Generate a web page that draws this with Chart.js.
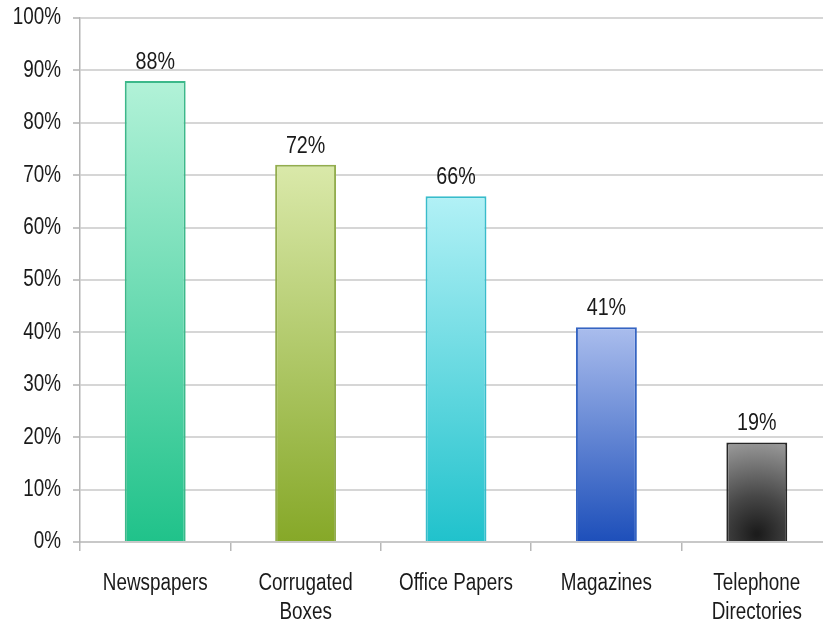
<!DOCTYPE html>
<html>
<head>
<meta charset="utf-8">
<script src="https://cdn.jsdelivr.net/npm/chart.js@4.4.1/dist/chart.umd.min.js"></script>
<style>
  html, body { margin: 0; padding: 0; background: #ffffff; overflow: hidden; }
  #wrap { position: relative; width: 840px; height: 637px; }
</style>
</head>
<body>
<div id="wrap"><canvas id="chart"></canvas></div>
<script>
// Recycling rates by paper product (percent)
const categories = ["Newspapers", ["Corrugated", "Boxes"], "Office Papers", "Magazines", ["Telephone", "Directories"]];
const recyclingRates = [88, 72, 66, 41, 19];
const valueLabels = ["88%", "72%", "66%", "41%", "19%"];
const yTickValues = [0, 10, 20, 30, 40, 50, 60, 70, 80, 90, 100];

// Per-bar shading: top colour, bottom colour, outline colour
const barTop = ["#b2f2d8", "#dae9aa", "#b2f1f6", "#aabded", "#a9a9a9"];
const barBottom = ["#20c28a", "#86a828", "#20c2cc", "#1d4fba", "#1c1c1c"];
const barEdge = ["#3cb88a", "#93ad4e", "#38bccb", "#3564c2", "#262626"];

const FONT = "'Liberation Sans', Arial, sans-serif";
const TEXT_COLOR = "#1a1a1a";
const SQUEEZE = 0.82;   // narrow lettering: horizontal scale of all text

function barFill(ctx) {
  const chart = ctx.chart;
  const i = ctx.dataIndex;
  const yScale = chart.scales.y;
  const xScale = chart.scales.x;
  if (!chart.chartArea || !yScale || !xScale) return barBottom[i];
  const g = chart.ctx;
  const top = yScale.getPixelForValue(recyclingRates[i]);
  const base = yScale.getPixelForValue(0);
  if (i === 4) {
    const cx = xScale.getPixelForValue(i);
    const r = g.createRadialGradient(cx, base - 8, 2, cx, base - 8, (base - top) * 1.05);
    r.addColorStop(0, barBottom[i]);
    r.addColorStop(0.35, "#474747");
    r.addColorStop(1, barTop[i]);
    return r;
  }
  const lg = g.createLinearGradient(0, top, 0, base);
  lg.addColorStop(0, barTop[i]);
  lg.addColorStop(1, barBottom[i]);
  return lg;
}

// Draws one narrow text line, anchored at (x, y)
function narrowText(g, text, x, y, align) {
  g.save();
  g.translate(x, y);
  g.scale(SQUEEZE, 1);
  g.textAlign = align;
  g.fillText(text, 0, 0);
  g.restore();
}

// Axis labels and value labels in narrow lettering
const narrowLabelPlugin = {
  id: 'narrowLabels',
  afterDraw(chart) {
    const g = chart.ctx;
    const xs = chart.scales.x;
    const ys = chart.scales.y;
    g.save();
    g.fillStyle = TEXT_COLOR;
    g.textBaseline = "middle";

    // y-axis tick labels
    g.font = "23px " + FONT;
    ys.ticks.forEach((t, i) => {
      narrowText(g, t.value + "%", ys.right - 19, ys.getPixelForTick(i), "right");
    });

    // category labels (one or two lines)
    xs.ticks.forEach((t, i) => {
      const lines = [].concat(chart.data.labels[i]);
      lines.forEach((line, k) => {
        narrowText(g, line, xs.getPixelForTick(i), xs.top + 42 + k * 29, "center");
      });
    });

    // value labels above bars
    g.font = "24px " + FONT;
    g.textBaseline = "alphabetic";
    chart.getDatasetMeta(0).data.forEach((bar, i) => {
      narrowText(g, valueLabels[i], bar.x, bar.y - 12, "center");
    });
    g.restore();
  }
};

new Chart(document.getElementById('chart'), {
  type: 'bar',
  data: {
    labels: categories,
    datasets: [{
      data: recyclingRates,
      backgroundColor: barFill,
      borderColor: barEdge,
      borderWidth: 2,
      borderSkipped: 'bottom',
      barPercentage: 0.405,
      categoryPercentage: 1.0
    }]
  },
  options: {
    responsive: true,
    maintainAspectRatio: false,
    animation: false,
    layout: { padding: { top: 18, right: 8, bottom: 0, left: 0 } },
    plugins: {
      legend: { display: false },
      tooltip: { enabled: false }
    },
    scales: {
      x: {
        afterFit(scale) { scale.height = 95; },
        grid: {
          offset: true,
          drawOnChartArea: false,
          drawTicks: true,
          tickLength: 9,
          color: '#b8b8b8',
          lineWidth: 1.5
        },
        border: { display: true, color: '#c8c8c8', width: 2 },
        ticks: {
          color: 'rgba(0,0,0,0)',
          font: { family: FONT, size: 23, lineHeight: 1.26 },
          padding: 16,
          maxRotation: 0,
          autoSkip: false
        }
      },
      y: {
        min: 0,
        max: 100,
        afterBuildTicks(scale) {
          scale.ticks = yTickValues.map(v => ({ value: v }));
        },
        afterFit(scale) {
          scale.width = 80;
          scale.paddingTop = 0;
          scale.paddingBottom = 0;
        },
        grid: {
          color: '#d6d6d6',
          lineWidth: 2,
          drawTicks: true,
          tickLength: 7,
          tickColor: '#c4c4c4'
        },
        border: { display: true, color: '#b4b4b4', width: 1.5 },
        ticks: {
          color: 'rgba(0,0,0,0)',
          font: { family: FONT, size: 23 },
          padding: 12,
          callback: v => v + '%'
        }
      }
    }
  },
  plugins: [narrowLabelPlugin]
});
</script>
</body>
</html>
